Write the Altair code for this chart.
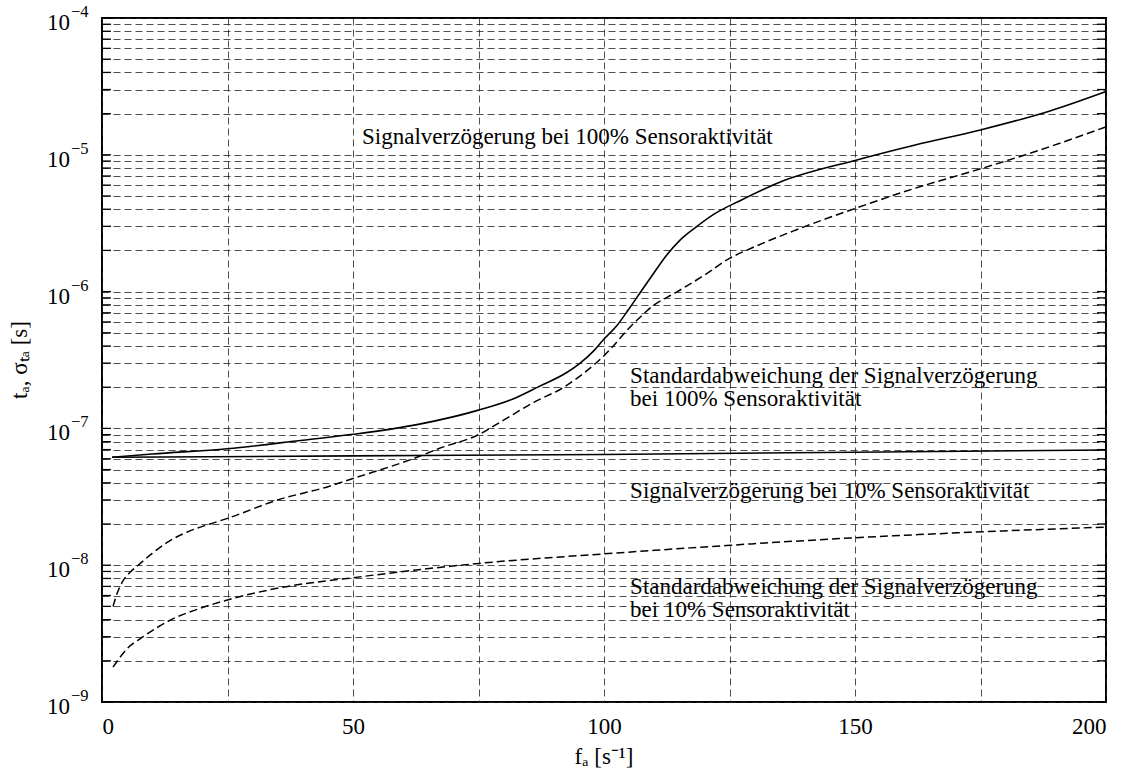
import altair as alt
import pandas as pd

FONT = "Liberation Serif"

# --- curves ---
x_delay100 = [2, 10, 25, 40, 50, 63, 75, 82, 87, 92.5, 95, 98, 100, 102.5, 105, 107.5, 110, 112.5, 115, 118, 122, 127, 135, 150, 162, 175, 189, 200]
y_delay100 = [6.15e-8, 6.5e-8, 7.1e-8, 8.2e-8, 9.05e-8, 1.07e-7, 1.36e-7, 1.65e-7, 2.02e-7, 2.55e-7, 2.95e-7, 3.7e-7, 4.5e-7, 5.6e-7, 7.5e-7, 1.02e-6, 1.38e-6, 1.85e-6, 2.35e-6, 2.9e-6, 3.7e-6, 4.6e-6, 6.3e-6, 9.1e-6, 1.18e-5, 1.52e-5, 2.1e-5, 2.9e-5]

x_std100 = [2.2, 3, 4, 5.5, 7.2, 10, 13, 17, 21.5, 25, 35, 45, 50, 63, 67, 75, 80, 86, 92, 100, 106, 110, 114, 120, 125, 129, 138, 150, 162, 175, 185, 200]
y_std100 = [5.0e-9, 6.2e-9, 7.5e-9, 8.8e-9, 1.0e-8, 1.22e-8, 1.47e-8, 1.75e-8, 2.0e-8, 2.2e-8, 3.0e-8, 3.75e-8, 4.3e-8, 6.2e-8, 7.1e-8, 9.0e-8, 1.15e-7, 1.55e-7, 2.0e-7, 3.4e-7, 5.9e-7, 8.0e-7, 9.7e-7, 1.32e-6, 1.75e-6, 2.05e-6, 2.8e-6, 4.05e-6, 5.7e-6, 7.9e-6, 1.03e-5, 1.6e-5]

x_delay10 = [2, 50, 100, 150, 200]
y_delay10 = [6.15e-8, 6.3e-8, 6.45e-8, 6.7e-8, 6.95e-8]

x_std10 = [2.2, 5, 8.2, 13.5, 20, 25, 35.5, 50, 75, 100, 124, 149, 173, 200]
y_std10 = [1.8e-9, 2.45e-9, 3.0e-9, 3.95e-9, 4.9e-9, 5.57e-9, 6.85e-9, 8.1e-9, 1.03e-8, 1.21e-8, 1.39e-8, 1.58e-8, 1.74e-8, 1.9e-8]

# --- axis ticks / labels ---
x_ticks = [0, 25, 50, 75, 100, 125, 150, 175, 200]
decade_vals = [1e-9, 1e-8, 1e-7, 1e-6, 1e-5, 1e-4]
decade_base = ["10"] * 6
decade_exp = ["\u22129", "\u22128", "\u22127", "\u22126", "\u22125", "\u22124"]
minor_vals = [m * 10.0 ** e for e in range(-9, -4) for m in range(1, 10)] + [1e-4]

# --- annotations ---
ann_text = [
    "Signalverzögerung bei 100% Sensoraktivität",
    "Standardabweichung der Signalverzögerung\nbei 100% Sensoraktivität",
    "Signalverzögerung bei 10% Sensoraktivität",
    "Standardabweichung der Signalverzögerung\nbei 10% Sensoraktivität",
]
ann_x = [51.8, 105.2, 105.2, 105.2]
ann_y = [1.2e-5, 2.13e-7, 3.1e-8, 6.15e-9]

W, H = 1004, 684

xscale = alt.Scale(domain=[0, 200], nice=False, zero=False)
yscale = alt.Scale(type="log", domain=[1e-9, 1e-4], nice=False)

def curve_df(xs, ys, name):
    return pd.DataFrame({"x": xs, "y": ys, "series": name})

df = pd.concat([
    curve_df(x_delay100, y_delay100, "delay100"),
    curve_df(x_std100, y_std100, "std100"),
    curve_df(x_delay10, y_delay10, "delay10"),
    curve_df(x_std10, y_std10, "std10"),
])

base = alt.Chart(df)

solid = base.transform_filter(
    alt.FieldOneOfPredicate(field="series", oneOf=["delay100", "delay10"])
).mark_line(color="black", strokeWidth=1.6, interpolate="monotone").encode(
    x=alt.X("x:Q", scale=xscale,
            axis=alt.Axis(values=x_ticks, grid=True, gridDash=[7, 4], gridColor="#222", gridWidth=0.8,
                          gridOpacity=1, ticks=False, domain=False, title=None,
                          labelExpr="datum.value % 50 == 0 ? datum.label : ''",
                          labelFont=FONT, labelFontSize=23, labelColor="black", labelPadding=13)),
    y=alt.Y("y:Q", scale=yscale,
            axis=alt.Axis(values=minor_vals, grid=True, gridDash=[7, 4], gridColor="#222", gridWidth=0.8,
                          gridOpacity=1, ticks=False, domain=False, labels=False, title=None)),
    detail="series:N",
)

dashed = base.transform_filter(
    alt.FieldOneOfPredicate(field="series", oneOf=["std100", "std10"])
).mark_line(color="black", strokeWidth=1.5, strokeDash=[8, 4], interpolate="monotone").encode(
    x=alt.X("x:Q", scale=xscale),
    y=alt.Y("y:Q", scale=yscale),
    detail="series:N",
)

tick_df = pd.DataFrame({"v": minor_vals})
left_ticks = alt.Chart(tick_df).mark_rule(color="black", strokeWidth=1.3).encode(
    x=alt.value(0), x2=alt.value(9), y=alt.Y("v:Q", scale=yscale))
right_ticks = alt.Chart(tick_df).mark_rule(color="black", strokeWidth=1.3).encode(
    x=alt.value(W - 9), x2=alt.value(W), y=alt.Y("v:Q", scale=yscale))

lab_df = pd.DataFrame({"v": decade_vals, "base": decade_base, "exp": decade_exp})
ylab_base = alt.Chart(lab_df).mark_text(align="right", baseline="middle", font=FONT, fontSize=23,
                                        dy=5, color="black").encode(
    x=alt.value(-32), y=alt.Y("v:Q", scale=yscale), text="base:N")
ylab_exp = alt.Chart(lab_df).mark_text(align="left", baseline="middle", font=FONT, fontSize=16.5,
                                       dy=-6, color="black").encode(
    x=alt.value(-31), y=alt.Y("v:Q", scale=yscale), text="exp:N")

ann_df = pd.DataFrame({"x": ann_x, "y": ann_y, "t": ann_text})
ann = alt.Chart(ann_df).mark_text(align="left", baseline="alphabetic", font=FONT, fontSize=23,
                                  lineBreak="\n", lineHeight=23, color="black").encode(
    x=alt.X("x:Q", scale=xscale), y=alt.Y("y:Q", scale=yscale), text="t:N")

title_df = pd.DataFrame({"t": ["fₐ [s⁻¹]"]})
xtitle = alt.Chart(title_df).mark_text(align="center", baseline="middle", font=FONT, fontSize=23,
                                       color="black").encode(
    x=alt.value(W / 2), y=alt.value(H + 55), text="t:N")
ytitle_df = pd.DataFrame({"t": ["tₐ, σₜₐ [s]"]})
ytitle = alt.Chart(ytitle_df).mark_text(align="center", baseline="middle", font=FONT, fontSize=23,
                                        angle=270, color="black").encode(
    x=alt.value(-82), y=alt.value(H / 2), text="t:N")

chart = alt.layer(
    solid, dashed, left_ticks, right_ticks, ylab_base, ylab_exp, ann, xtitle, ytitle
).properties(
    width=W, height=H,
    autosize="none",
    padding={"left": 102, "top": 18, "right": 28, "bottom": 78},
    background="white",
).configure_view(stroke="black", strokeWidth=2)

chart.save("out.html", embed_options={"renderer": "svg", "actions": False})
